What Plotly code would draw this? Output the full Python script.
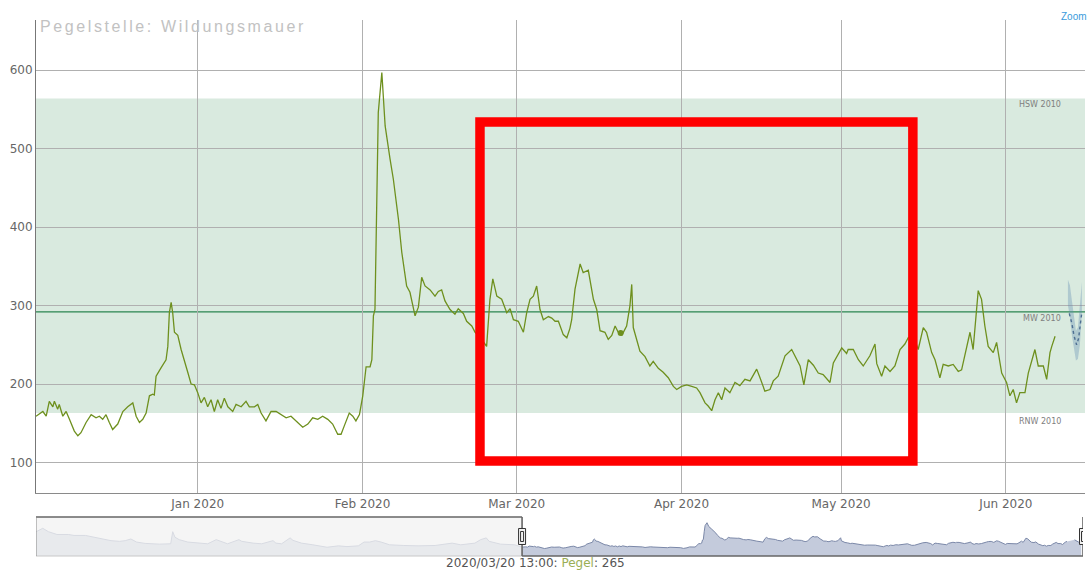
import plotly.graph_objects as go

# ---------------- data ----------------
main_times = [
    "2019-12-01 14:00", "2019-12-02 21:00", "2019-12-03 12:00", "2019-12-04 02:00", "2019-12-04 18:00",
    "2019-12-05 01:00", "2019-12-05 16:00", "2019-12-05 23:00", "2019-12-06 15:00", "2019-12-07 06:00",
    "2019-12-07 21:00", "2019-12-08 19:00", "2019-12-09 11:00", "2019-12-10 01:00", "2019-12-11 00:00",
    "2019-12-11 23:00", "2019-12-12 21:00", "2019-12-13 12:00", "2019-12-14 03:00", "2019-12-14 18:00",
    "2019-12-15 09:00", "2019-12-16 00:00", "2019-12-16 23:00", "2019-12-17 22:00", "2019-12-18 20:00",
    "2019-12-19 19:00", "2019-12-20 10:00", "2019-12-21 01:00", "2019-12-21 16:00", "2019-12-22 07:00",
    "2019-12-22 22:00", "2019-12-23 13:00", "2019-12-23 20:00", "2019-12-24 04:00", "2019-12-25 03:00",
    "2019-12-26 01:00", "2019-12-26 09:00", "2019-12-26 16:00", "2019-12-27 00:00", "2019-12-27 07:00",
    "2019-12-27 15:00", "2019-12-28 06:00", "2019-12-28 21:00", "2019-12-29 12:00", "2019-12-30 03:00",
    "2019-12-30 18:00", "2019-12-31 09:00", "2020-01-01 00:00", "2020-01-01 15:00", "2020-01-02 06:00",
    "2020-01-02 21:00", "2020-01-03 12:00", "2020-01-04 03:00", "2020-01-04 18:00", "2020-01-05 09:00",
    "2020-01-06 00:00", "2020-01-06 16:00", "2020-01-07 14:00", "2020-01-08 05:00", "2020-01-09 04:00",
    "2020-01-10 02:00", "2020-01-10 17:00", "2020-01-11 16:00", "2020-01-12 07:00", "2020-01-12 22:00",
    "2020-01-13 20:00", "2020-01-14 19:00", "2020-01-15 18:00", "2020-01-16 16:00", "2020-01-17 15:00",
    "2020-01-18 13:00", "2020-01-19 12:00", "2020-01-20 18:00", "2020-01-21 17:00", "2020-01-22 15:00",
    "2020-01-23 14:00", "2020-01-24 12:00", "2020-01-25 11:00", "2020-01-26 09:00", "2020-01-27 08:00",
    "2020-01-27 23:00", "2020-01-28 14:00", "2020-01-29 12:00", "2020-01-30 04:00", "2020-01-30 18:00",
    "2020-01-31 10:00", "2020-02-01 01:00", "2020-02-01 16:00", "2020-02-02 10:00", "2020-02-02 18:00",
    "2020-02-03 01:00", "2020-02-03 08:00", "2020-02-03 16:00", "2020-02-03 23:00", "2020-02-04 15:00",
    "2020-02-05 06:00", "2020-02-06 04:00", "2020-02-06 19:00", "2020-02-07 18:00", "2020-02-08 09:00",
    "2020-02-09 07:00", "2020-02-09 22:00", "2020-02-10 21:00", "2020-02-11 12:00", "2020-02-12 03:00",
    "2020-02-12 18:00", "2020-02-13 17:00", "2020-02-14 15:00", "2020-02-15 06:00", "2020-02-15 21:00",
    "2020-02-16 12:00", "2020-02-17 11:00", "2020-02-18 09:00", "2020-02-19 00:00", "2020-02-19 23:00",
    "2020-02-20 14:00", "2020-02-21 13:00", "2020-02-22 04:00", "2020-02-23 07:00", "2020-02-24 08:00",
    "2020-02-24 23:00", "2020-02-25 12:00", "2020-02-26 06:00", "2020-02-27 04:00", "2020-02-28 03:00",
    "2020-02-28 18:00", "2020-02-29 09:00", "2020-03-01 07:00", "2020-03-02 06:00", "2020-03-02 21:00",
    "2020-03-03 12:00", "2020-03-04 03:00", "2020-03-04 18:00", "2020-03-05 09:00", "2020-03-06 00:00",
    "2020-03-06 23:00", "2020-03-07 14:00", "2020-03-08 05:00", "2020-03-08 20:00", "2020-03-09 18:00",
    "2020-03-10 10:00", "2020-03-11 00:00", "2020-03-11 08:00", "2020-03-11 23:00", "2020-03-12 22:00",
    "2020-03-13 12:00", "2020-03-14 11:00", "2020-03-15 10:00", "2020-03-16 01:00", "2020-03-16 16:00",
    "2020-03-17 14:00", "2020-03-18 05:00", "2020-03-18 21:00", "2020-03-19 12:00", "2020-03-20 02:00",
    "2020-03-20 13:00", "2020-03-20 18:00", "2020-03-21 16:00", "2020-03-22 07:00", "2020-03-22 15:00",
    "2020-03-22 22:00", "2020-03-23 13:00", "2020-03-24 04:00", "2020-03-25 03:00", "2020-03-26 01:00",
    "2020-03-26 16:00", "2020-03-27 15:00", "2020-03-28 13:00", "2020-03-29 12:00", "2020-03-30 11:00",
    "2020-03-31 02:00", "2020-04-01 00:00", "2020-04-01 23:00", "2020-04-02 22:00", "2020-04-03 20:00",
    "2020-04-04 11:00", "2020-04-05 10:00", "2020-04-06 00:00", "2020-04-06 16:00", "2020-04-07 07:00",
    "2020-04-07 22:00", "2020-04-08 13:00", "2020-04-09 04:00", "2020-04-10 02:00", "2020-04-11 01:00",
    "2020-04-11 23:00", "2020-04-12 22:00", "2020-04-13 21:00", "2020-04-15 03:00", "2020-04-15 18:00",
    "2020-04-16 16:00", "2020-04-17 15:00", "2020-04-18 06:00", "2020-04-19 04:00", "2020-04-20 11:00",
    "2020-04-21 17:00", "2020-04-22 08:00", "2020-04-23 07:00", "2020-04-24 00:00", "2020-04-24 20:00",
    "2020-04-25 19:00", "2020-04-26 17:00", "2020-04-27 15:00", "2020-04-28 22:00", "2020-04-29 13:00",
    "2020-04-30 11:00", "2020-05-01 03:00", "2020-05-02 01:00", "2020-05-02 08:00", "2020-05-03 07:00",
    "2020-05-04 06:00", "2020-05-05 04:00", "2020-05-06 10:00", "2020-05-07 09:00", "2020-05-07 17:00",
    "2020-05-08 15:00", "2020-05-09 06:00", "2020-05-10 05:00", "2020-05-11 03:00", "2020-05-12 02:00",
    "2020-05-13 00:00", "2020-05-13 15:00", "2020-05-14 14:00", "2020-05-15 12:00", "2020-05-16 11:00",
    "2020-05-17 02:00", "2020-05-18 01:00", "2020-05-18 16:00", "2020-05-19 14:00", "2020-05-20 05:00",
    "2020-05-21 04:00", "2020-05-22 02:00", "2020-05-23 01:00", "2020-05-23 16:00", "2020-05-24 07:00",
    "2020-05-25 06:00", "2020-05-25 20:00", "2020-05-26 19:00", "2020-05-27 10:00", "2020-05-28 01:00",
    "2020-05-28 16:00", "2020-05-29 15:00", "2020-05-30 06:00", "2020-05-31 05:00", "2020-06-01 03:00",
    "2020-06-01 18:00", "2020-06-02 09:00", "2020-06-03 00:00", "2020-06-03 15:00", "2020-06-04 14:00",
    "2020-06-05 05:00", "2020-06-06 11:00", "2020-06-07 02:00", "2020-06-08 01:00", "2020-06-08 16:00",
    "2020-06-09 07:00", "2020-06-09 15:00", "2020-06-10 06:00",
]
main_values = [
    159, 165, 159, 178, 171, 178, 168, 174, 159, 165,
    155, 140, 134, 138, 151, 161, 157, 159, 155, 161,
    151, 142, 149, 165, 171, 176, 159, 151, 155, 163,
    185, 187, 186, 210, 221, 231, 248, 291, 304, 291,
    266, 262, 244, 231, 215, 200, 199, 189, 176, 183,
    171, 180, 165, 180, 169, 182, 171, 165, 174, 171,
    178, 171, 171, 174, 163, 153, 165, 165, 161, 157,
    159, 153, 145, 149, 157, 155, 159, 155, 149, 136,
    136, 147, 163, 159, 153, 161, 185, 222, 222, 231,
    287, 295, 444, 546, 597, 529, 487, 461, 410, 368,
    325, 317, 287, 298, 336, 325, 320, 312, 318, 320,
    306, 295, 289, 296, 290, 280, 274, 266, 258, 248,
    308, 334, 312, 308, 291, 296, 282, 280, 266, 291,
    308, 312, 325, 295, 282, 286, 284, 280, 280, 263,
    259, 271, 282, 321, 353, 342, 345, 308, 295, 268,
    266, 257, 262, 274, 266, 265, 262, 274, 300, 327,
    272, 257, 242, 235, 223, 229, 220, 215, 208, 197,
    193, 197, 199, 197, 195, 189, 176, 172, 166, 180,
    189, 180, 195, 189, 202, 198, 206, 204, 219, 208,
    191, 193, 204, 210, 236, 244, 236, 223, 199, 231,
    224, 214, 212, 202, 227, 239, 246, 239, 244, 244,
    231, 223, 236, 251, 226, 210, 223, 216, 223, 244,
    251, 259, 262, 244, 272, 266, 240, 231, 208, 225,
    223, 225, 216, 218, 236, 266, 244, 319, 308, 274,
    248, 240, 253, 214, 202, 185, 193, 176, 189, 189,
    214, 244, 223, 223, 206, 240, 248, 261,
]

# navigator: earlier part of the year (only visible in the navigator)
nav_early_times = [
    "2019-06-13", "2019-06-16", "2019-06-18", "2019-06-20", "2019-06-21", "2019-06-25", "2019-06-27",
    "2019-07-01", "2019-07-04", "2019-07-07", "2019-07-10", "2019-07-13", "2019-07-15", "2019-07-17",
    "2019-07-19", "2019-07-22", "2019-07-27", "2019-07-31 00:00", "2019-07-31 17:00", "2019-08-01 12:00",
    "2019-08-03", "2019-08-06", "2019-08-10", "2019-08-13", "2019-08-16", "2019-08-18", "2019-08-20",
    "2019-08-24", "2019-08-25", "2019-08-29", "2019-09-01", "2019-09-05", "2019-09-06", "2019-09-08",
    "2019-09-11", "2019-09-12", "2019-09-15", "2019-09-19", "2019-09-24", "2019-09-28", "2019-10-01",
    "2019-10-05", "2019-10-07", "2019-10-09", "2019-10-11", "2019-10-13", "2019-10-16", "2019-10-21",
    "2019-10-26", "2019-11-01", "2019-11-07", "2019-11-10", "2019-11-15", "2019-11-17", "2019-11-19",
    "2019-11-20", "2019-11-24", "2019-11-29",
]
nav_early_values = [
    418, 497, 436, 406, 386, 386, 369,
    369, 337, 312, 275, 263, 275, 305,
    250, 226, 213, 219, 436, 337,
    293, 250, 231, 219, 293, 263, 219,
    293, 263, 231, 219, 275, 231, 219,
    325, 281, 231, 201, 157, 182, 169,
    182, 250, 250, 275, 250, 201, 189,
    182, 189, 231, 201, 231, 293, 325,
    263, 213, 201,
]

# forecast (band and median)
fc_times = ["2020-06-12 16:00", "2020-06-13 01:00", "2020-06-13 10:00", "2020-06-13 19:00",
            "2020-06-14 04:00", "2020-06-14 13:00", "2020-06-14 22:00", "2020-06-15 07:00"]
fc_low = [300, 285, 262, 243, 230, 232, 250, 292]
fc_high = [333, 326, 306, 286, 268, 272, 302, 330]
fc_med_times = ["2020-06-12 22:00", "2020-06-13 10:00", "2020-06-13 19:00", "2020-06-14 07:00",
                "2020-06-14 16:00", "2020-06-14 22:00", "2020-06-15 06:00"]
fc_med = [290, 277, 262, 250, 258, 275, 290]

# reference levels
HSW_2010 = 564
MW_2010 = 292
RNW_2010 = 163

hover_time = "2020-03-20 13:00"
hover_value = 265

x_start = "2019-12-01 14:00"
x_end = "2020-06-15 21:00"
nav_start = "2019-06-13 15:00"

highlight_x = ["2020-02-23 02:00", "2020-05-14 12:00"]
highlight_y = [102, 534]

# ---------------- figure ----------------
OLIVE = "#6e901e"
FONT = "DejaVu Sans"

fig = go.Figure()

fig.add_trace(go.Scatter(x=fc_times, y=fc_low, mode="lines", line=dict(width=0),
                         hoverinfo="skip", showlegend=False))
fig.add_trace(go.Scatter(x=fc_times, y=fc_high, mode="lines", line=dict(width=0),
                         fill="tonexty", fillcolor="rgba(90,135,175,0.33)",
                         hoverinfo="skip", showlegend=False))
fig.add_trace(go.Scatter(x=fc_med_times, y=fc_med, mode="lines",
                         line=dict(color="#4e6f92", width=1.4, dash="dot"),
                         hoverinfo="skip", showlegend=False))
fig.add_trace(go.Scatter(x=main_times, y=main_values, mode="lines",
                         line=dict(color=OLIVE, width=1.3), showlegend=False, name="Pegel"))
fig.add_trace(go.Scatter(x=[hover_time], y=[hover_value], mode="markers",
                         marker=dict(color=OLIVE, size=6), showlegend=False, hoverinfo="skip"))

nav_x = nav_early_times + main_times + [None] + fc_med_times
nav_y = nav_early_values + main_values + [None] + fc_med
fig.add_trace(go.Scatter(x=nav_x, y=nav_y, xaxis="x2", yaxis="y2", mode="lines",
                         line=dict(color="#7b88a8", width=1), fill="tozeroy",
                         fillcolor="rgba(125,140,178,0.45)", connectgaps=False,
                         showlegend=False, hoverinfo="skip"))

main_bottom = 0.1181
nav_top = 0.0728

fig.update_layout(
    width=1089, height=572,
    margin=dict(l=36, r=4, t=20, b=16),
    paper_bgcolor="white", plot_bgcolor="white",
    showlegend=False,
    font=dict(family=FONT, size=12, color="#666"),
    xaxis=dict(domain=[0, 1], anchor="y", type="date", range=[x_start, x_end],
               showgrid=True, gridcolor="#b0b0b0", gridwidth=1,
               tick0="2020-01-01", dtick="M1", tickformat="%b %Y",
               showline=True, linecolor="#8a8a8a", linewidth=1, ticks="",
               tickfont=dict(family=FONT, size=12, color="#666"), zeroline=False),
    yaxis=dict(domain=[main_bottom, 1], anchor="x", range=[61.5, 664],
               tickvals=[100, 200, 300, 400, 500, 600],
               showgrid=True, gridcolor="#b0b0b0", gridwidth=1,
               showline=True, linecolor="#777", linewidth=1, ticks="",
               tickfont=dict(family=FONT, size=12, color="#666"), zeroline=False),
    xaxis2=dict(domain=[0, 0.9981], anchor="y2", type="date", range=[nav_start, x_end],
                visible=False),
    yaxis2=dict(domain=[0, nav_top], anchor="x2", range=[0, 700], visible=False),
)

shapes = [
    dict(type="rect", xref="x domain", yref="y", x0=0, x1=1, y0=RNW_2010, y1=HSW_2010,
         fillcolor="#d9eadf", line=dict(width=0), layer="below"),
    dict(type="line", xref="x domain", yref="y", x0=0, x1=1, y0=MW_2010, y1=MW_2010,
         line=dict(color="#2a8550", width=1.3), layer="below"),
    dict(type="rect", xref="x", yref="y", x0=highlight_x[0], x1=highlight_x[1],
         y0=highlight_y[0], y1=highlight_y[1], line=dict(color="#ff0000", width=9.5),
         fillcolor="rgba(0,0,0,0)", layer="above"),
    # navigator mask + outline
    dict(type="rect", xref="x2", yref="y2 domain", x0=nav_start, x1=x_start, y0=0, y1=1,
         fillcolor="rgba(242,242,242,0.78)", line=dict(width=0), layer="above"),
    dict(type="line", xref="x2", yref="y2 domain", x0=nav_start, x1=x_start, y0=0, y1=0,
         line=dict(color="#c8c8c8", width=1), layer="above"),
    dict(type="line", xref="x2", yref="y2 domain", x0=nav_start, x1=x_start, y0=1, y1=1,
         line=dict(color="#666", width=1.6), layer="above"),
    dict(type="line", xref="x2", yref="y2 domain", x0=nav_start, x1=nav_start, y0=0, y1=1,
         line=dict(color="#888", width=1), layer="above"),
    dict(type="line", xref="x2", yref="y2 domain", x0=x_start, x1=x_start, y0=0, y1=1,
         line=dict(color="#666", width=1.6), layer="above"),
    dict(type="line", xref="x2", yref="y2 domain", x0=x_start, x1=x_end, y0=0, y1=0,
         line=dict(color="#666", width=1.6), layer="above"),
    dict(type="line", xref="x2", yref="y2 domain", x0=x_end, x1=x_end, y0=0, y1=1,
         line=dict(color="#666", width=1.6), layer="above"),
]
for hx in (x_start, x_end):
    shapes.append(dict(type="rect", xref="x2", yref="y2 domain", xsizemode="pixel",
                       ysizemode="pixel", xanchor=hx, yanchor=0.5, x0=-3.5, x1=3.5,
                       y0=-8, y1=8, fillcolor="#f2f2f2", line=dict(color="#333", width=1),
                       layer="above"))
    shapes.append(dict(type="rect", xref="x2", yref="y2 domain", xsizemode="pixel",
                       ysizemode="pixel", xanchor=hx, yanchor=0.5, x0=-1.5, x1=1.5,
                       y0=-5, y1=5, fillcolor="rgba(0,0,0,0)", line=dict(color="#333", width=1),
                       layer="above"))
fig.update_layout(shapes=shapes)

label_font = dict(family=FONT, size=8, color="#808080")
annotations = [
    dict(text='<span style="letter-spacing:2.6px">Pegelstelle: Wildungsmauer</span>',
         xref="paper", yref="paper", x=0, y=1, xanchor="left", yanchor="top",
         xshift=2, yshift=4, showarrow=False,
         font=dict(family="Liberation Sans", size=16, color="#c2c2c2")),
    dict(text="Zoom", xref="paper", yref="paper", x=1, y=1, xanchor="right",
         yanchor="middle", xshift=4, yshift=4, showarrow=False,
         font=dict(family="Liberation Sans", size=10, color="#3a9bdc")),
    dict(text="HSW 2010", xref="paper", yref="y", x=0.9792, y=HSW_2010, xanchor="right",
         yanchor="top", yshift=0, showarrow=False, font=label_font),
    dict(text="MW 2010", xref="paper", yref="y", x=0.9792, y=MW_2010, xanchor="right",
         yanchor="top", yshift=0, showarrow=False, font=label_font),
    dict(text="RNW 2010", xref="paper", yref="y", x=0.9792, y=RNW_2010, xanchor="right",
         yanchor="top", yshift=-2, showarrow=False, font=label_font),
    dict(text=(hover_time.replace("-", "/") + ': <span style="color:#9aae55">Pegel</span>: '
               + str(hover_value)),
         xref="paper", yref="paper", x=0.4757, y=-0.013, xanchor="center", yanchor="middle",
         showarrow=False, font=dict(family=FONT, size=12, color="#555")),
]
fig.update_layout(annotations=annotations)

fig.write_html("out.html", config={"displayModeBar": False},
               post_script="document.body.style.margin='0';document.body.style.overflow='hidden';")
